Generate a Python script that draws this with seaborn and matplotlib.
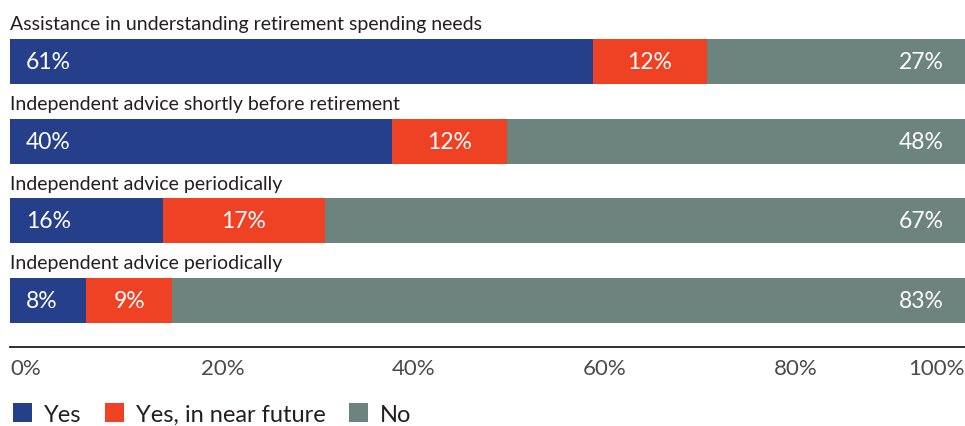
import matplotlib
matplotlib.use("Agg")
import matplotlib.pyplot as plt
import seaborn as sns
import pandas as pd
from matplotlib.patches import Patch

# ---- data ----
categories = [
    "Assistance in understanding retirement spending needs",
    "Independent advice shortly before retirement",
    "Independent advice periodically",
    "Independent advice periodically",
]
yes = [61, 40, 16, 8]
yes_near = [12, 12, 17, 9]
no = [27, 48, 67, 83]
series_names = ["Yes", "Yes, in near future", "No"]
tick_values = [0, 20, 40, 60, 80, 100]
tick_labels = ["0%", "20%", "40%", "60%", "80%", "100%"]

colors = ["#263f8a", "#ef4124", "#6d837e"]
text_dark = "#231f20"

sns.set_theme(style="white")
plt.rcParams["font.family"] = ["Lato", "DejaVu Sans"]

W, H = 965, 427
fig = plt.figure(figsize=(W / 100, H / 100), dpi=100)
ax = fig.add_axes([10 / W, 1 - 348 / H, 955 / W, (348 - 40) / H])

df = pd.DataFrame({"row": list(range(len(categories))), "cat": categories,
                   "yes": yes, "near": yes_near, "no": no})
df["c1"] = df["yes"]
df["c2"] = df["yes"] + df["near"]
df["c3"] = df["c2"] + df["no"]

bar_w = 0.565
for col, color in [("c3", colors[2]), ("c2", colors[1]), ("c1", colors[0])]:
    sns.barplot(data=df, x=col, y="row", orient="h", color=color, saturation=1,
                width=bar_w, edgecolor="none", linewidth=0, ax=ax)

ax.set_xlim(0, 100)
ax.set_ylim(3.5835, -0.2824)

px = 100 / 955.0  # data units per pixel in x
label_fs = 16.5
for i, row in df.iterrows():
    ax.text(0, i - bar_w / 2 - 0.12, row["cat"], ha="left", va="baseline",
            fontsize=14, color=text_dark, clip_on=False)
    ax.text(16 * px, i, f"{row['yes']}%", ha="left", va="center",
            fontsize=label_fs, color="white")
    ax.text(row["yes"] + row["near"] / 2, i, f"{row['near']}%", ha="center",
            va="center", fontsize=label_fs, color="white")
    ax.text(100 - 21 * px, i, f"{row['no']}%", ha="right", va="center",
            fontsize=label_fs, color="white")

ax.set_xlabel("")
ax.set_ylabel("")
ax.set_yticks([])
ax.set_xticks(tick_values)
ax.set_xticklabels(tick_labels, fontsize=16, color="#4a4a4a", fontweight="normal")
for j, tl in enumerate(ax.get_xticklabels()):
    tl.set_ha("right" if j == len(tick_values) - 1 else "left")
ax.tick_params(axis="x", length=0, pad=8)

for s in ["top", "right", "left"]:
    ax.spines[s].set_visible(False)
ax.spines["bottom"].set_color(text_dark)
ax.spines["bottom"].set_linewidth(1.3)
ax.grid(False)

handles = [Patch(facecolor=c, edgecolor="none") for c in colors]
fig.legend(handles, series_names, loc="lower left", bbox_to_anchor=(4 / W, -8 / H),
           ncol=3, frameon=False, fontsize=17, handlelength=0.8, handleheight=0.85,
           handletextpad=0.5, columnspacing=1.0, labelcolor=text_dark,
           borderaxespad=0)

fig.savefig("out.png", dpi=100)
